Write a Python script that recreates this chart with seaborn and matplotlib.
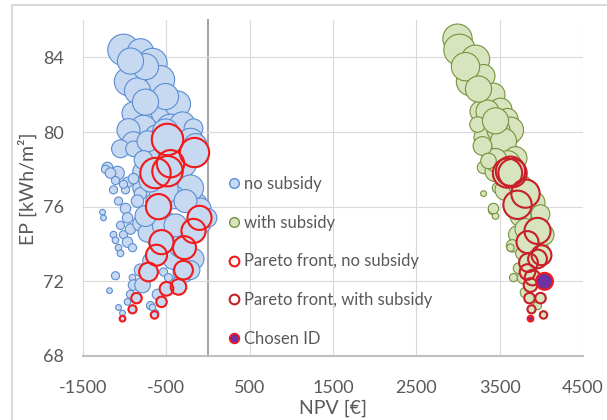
import numpy as np
import pandas as pd
import matplotlib
matplotlib.use("Agg")
import matplotlib.pyplot as plt
from matplotlib.lines import Line2D
from matplotlib.patches import Rectangle
from matplotlib.ticker import MultipleLocator
import seaborn as sns

# ---- data: NPV [€], EP [kWh/m²], bubble-size variable ----
# all renovation options without subsidy (non-Pareto)
npv_ns = [-1014, -810, -666, -954, -570, -846, -666, -534, -366, -894, -774, -450, -306, -954,
          -894, -606, -1050, -294, -414, -654, -1206, -1086, -966, -990, -810, -810, -330, -246,
          -126, -654, -450, -1230, -1170, -1110, -1014, -1134, -894, -810, -1074, -990, -846,
          -1266, -966, -894, -726, -774, -450, -294, -174, -210, -90, -606, -414, -1254, -1134,
          -1110, -1074, -1050, -1014, -966, -906, -1050, -930, -1110, -1182, -906, -894, -930,
          -966, -1074, -1026, -690, -666, -630, -786, -606, -534, -474, -570, -630, -414, -294,
          -366, -486, -330, -90, -6, -174, -606, -810, -726, -210, -150, -510, -750, -930, -534,
          -510, -750, -510, -690, -270, -750, -390, -210, -690, -810]
ep_ns = [84.4, 84.3, 83.7, 82.7, 82.8, 82.2, 81.3, 81.0, 81.5, 81.0, 80.2, 80.2, 80.4, 80.1,
         79.4, 79.7, 79.1, 79.1, 78.6, 78.6, 78.1, 77.8, 77.3, 76.9, 77.9, 77.0, 77.9, 77.0,
         76.2, 76.3, 76.7, 78.0, 77.8, 77.4, 77.2, 76.9, 77.5, 76.7, 76.3, 75.9, 76.3,
         75.7, 75.4, 79.1, 79.5, 78.5, 79.1, 78.3, 80.2, 77.0, 75.9, 75.8, 76.5, 75.4, 74.5,
         74.2, 73.8, 73.5, 74.5, 74.1, 73.8, 75.0, 74.8, 72.3, 71.5, 72.2, 71.8, 71.3,
         70.9, 70.6, 70.3, 70.7, 70.6, 70.3, 71.8, 71.3, 72.5, 72.2, 73.8, 74.2, 73.2, 72.5,
         71.8, 74.5, 73.9, 75.1, 75.4, 73.2, 75.5, 75.1, 74.6, 79.5, 79.3, 81.9, 83.5, 83.8, 76.9,
         75.0, 81.6, 80.0, 77.4, 76.3, 75.5, 75.0, 72.6, 73.1, 72.6]
size_ns = [90, 62, 78, 73, 73, 62, 90, 53, 62, 48, 62, 73, 58, 48,
           48, 62, 29, 62, 48, 48, 10, 17, 10, 6, 22, 22, 48, 48,
           32, 22, 40, 6, 10, 6, 6, 6, 10, 14, 6, 10, 14,
           3, 10, 22, 40, 32, 62, 62, 32, 62, 40, 40, 48, 3, 4,
           4, 4, 4, 6, 10, 6, 6, 10, 6, 3, 4, 10, 6,
           4, 3, 3, 6, 4, 4, 22, 10, 6, 6, 40, 22, 40, 40,
           22, 73, 48, 40, 32, 40, 62, 22, 32, 62, 48, 62, 62, 62, 78,
           62, 62, 62, 48, 48, 40, 48, 32, 22, 14]

# Pareto front without subsidy
npv_pf_ns = [-486, -162, -450, -630, -486, -594, -102, -174, -558, -282, -618, -294, -714,
             -498, -354, -858, -558, -906, -642, -1026]
ep_pf_ns = [79.6, 78.9, 78.3, 77.8, 77.9, 76.0, 75.4, 74.7, 74.1, 73.8, 73.4, 72.6, 72.5,
            71.6, 71.7, 71.1, 70.9, 70.5, 70.2, 70.0]
size_pf_ns = [90, 78, 68, 84, 84, 58, 53, 53, 53, 48, 40, 32, 32, 17, 22, 10, 10, 6, 5, 3]

# all renovation options with subsidy (non-Pareto)
npv_ws = [2994, 3018, 3210, 3150, 3306, 3366, 3426, 3270, 3510, 3594, 3354, 3330, 3570, 3630,
          3390, 3306, 3630, 3234, 3486, 3546, 3690, 3594, 3474, 3306, 3414, 3450, 3906, 3786,
          3990, 3714, 3654, 3630, 3774, 3726, 3666, 3786, 3810, 3954, 3990, 4026, 3426, 3570,
          3750, 3450, 3090, 3246, 3450, 3450, 3750, 3510, 3870, 3810, 3294, 3366]
ep_ws = [85.0, 84.4, 83.9, 82.7, 83.0, 81.8, 82.0, 81.1, 81.2, 80.7, 81.1, 79.7, 79.9, 80.1,
         79.0, 78.1, 78.6, 80.4, 80.1, 79.5, 78.6, 78.3, 77.0, 76.7, 75.8, 75.5, 76.2, 76.3,
         75.6, 74.5, 73.9, 73.8, 73.5, 72.7, 72.2, 72.2, 71.4, 70.7, 73.8, 74.5, 75.9, 76.9,
         77.1, 77.9, 83.5, 82.3, 80.6, 78.5, 75.5, 77.7, 72.9, 74.8, 79.25, 78.45]
size_ws = [78, 90, 73, 73, 48, 62, 48, 40, 48, 40, 48, 48, 73, 62,
           32, 14, 62, 22, 48, 62, 48, 62, 10, 3, 6, 4, 48, 40,
           32, 29, 14, 5, 17, 10, 6, 14, 10, 6, 22, 40, 10, 40,
           48, 40, 73, 62, 62, 48, 40, 22, 22, 40, 32, 22]

# Pareto front with subsidy
npv_pf_ws = [3594, 3630, 3654, 3810, 3714, 3954, 3834, 4002, 3846, 3954, 3834, 3894, 3870,
             3990, 3858, 3882, 4026]
ep_pf_ws = [77.8, 77.9, 77.8, 76.7, 76.1, 74.7, 74.1, 73.4, 73.0, 73.2, 72.5, 72.2, 71.8,
            71.1, 71.1, 70.5, 70.2]
size_pf_ws = [78, 78, 73, 73, 73, 62, 44, 36, 32, 32, 22, 22, 17, 10, 10, 6, 5]

# chosen solutions
npv_ch = [4038, 3870]
ep_ch = [72.0, 70.0]
size_ch = [26, 3]

legend_labels = ["no subsidy", "with subsidy", "Pareto front, no subsidy",
                 "Pareto front, with subsidy", "Chosen ID"]
x_ticks = [-1500, -500, 500, 1500, 2500, 3500, 4500]
y_ticks = [68, 72, 76, 80, 84]


def frame(x, y, s):
    return pd.DataFrame({"NPV": x, "EP": y, "bubble": s})


df_ns = frame(npv_ns + npv_pf_ns, ep_ns + ep_pf_ns, size_ns + size_pf_ns)
df_ws = frame(npv_ws + npv_pf_ws, ep_ws + ep_pf_ws, size_ws + size_pf_ws)
df_pf_ns = frame(npv_pf_ns, ep_pf_ns, size_pf_ns)
df_pf_ws = frame(npv_pf_ws, ep_pf_ws, size_pf_ws)
df_ch = frame(npv_ch, ep_ch, size_ch)

# ---- style ----
sns.set_theme(style="white")
plt.rcParams["font.family"] = ["Lato", "DejaVu Sans"]
plt.rcParams["axes.unicode_minus"] = False
TXT = "#595959"

blue_fc, blue_ec = "#C6D9F1", "#5B8DD3"
green_fc, green_ec = "#D7E4BD", "#76923C"
red1, red2 = "#F51A1A", "#C8202A"
purple = "#7030A0"

fig = plt.figure(figsize=(6.07, 4.2), dpi=100)
ax = fig.add_axes([83 / 607, 64 / 420, 500 / 607, 336 / 420])

# bubble area proportional to the size variable
size_kw = dict(size="bubble", sizes=(0, 570), size_norm=(0, 100), legend=False, ax=ax)

sns.scatterplot(data=df_ns, x="NPV", y="EP", color=blue_fc, edgecolor=blue_ec,
                linewidth=0.8, alpha=1, **size_kw)
sns.scatterplot(data=df_ws, x="NPV", y="EP", color=green_fc, edgecolor=green_ec,
                linewidth=0.8, alpha=1, **size_kw)
sns.scatterplot(data=df_pf_ns, x="NPV", y="EP", facecolors="none", edgecolor=red1,
                linewidth=1.5, **size_kw)
sns.scatterplot(data=df_pf_ws, x="NPV", y="EP", facecolors="none", edgecolor=red2,
                linewidth=1.5, **size_kw)
sns.scatterplot(data=df_ch, x="NPV", y="EP", color=purple, edgecolor=red1,
                linewidth=1.5, **size_kw)

ax.set_xlim(-1500, 4500)
ax.set_ylim(68, 86)
ax.set_xlabel("")
ax.set_ylabel("")

# grid
ax.set_axisbelow(True)
ax.set_xticks(x_ticks, labels=[str(v) for v in x_ticks])
ax.set_yticks(y_ticks)
ax.yaxis.set_minor_locator(MultipleLocator(1))
ax.grid(True, which="major", color="#D9D9D9", linewidth=0.8)

# spines: vertical value axis crossing at NPV = 0
for side in ("top", "right"):
    ax.spines[side].set_visible(False)
ax.spines["bottom"].set_color("#BFBFBF")
ax.spines["bottom"].set_linewidth(1.5)
ax.spines["left"].set_position(("data", 0))
ax.spines["left"].set_color("#A6A6A6")
ax.spines["left"].set_linewidth(1.5)
ax.spines["left"].set_zorder(0.5)

ax.tick_params(axis="y", which="both", direction="in", length=4.5, width=0.8,
               color="#A6A6A6", labelleft=False)
ax.tick_params(axis="x", length=0, pad=17, labelsize=13, labelcolor=TXT)

# y tick labels on the left edge of the plot
sec = ax.secondary_yaxis("left")
sec.set_yticks(y_ticks, labels=[str(v) for v in y_ticks])
sec.spines["left"].set_visible(False)
sec.tick_params(length=0, pad=13.5, labelsize=13, labelcolor=TXT)

fig.text(27 / 607, 1 - 189 / 420, "EP [kWh/m²]", rotation=90, ha="center", va="center",
         fontsize=14, color=TXT)
fig.text(333 / 607, 1 - 408 / 420, "NPV [€]", ha="center", va="center",
         fontsize=14, color=TXT)

# legend
handles = [
    Line2D([], [], linestyle="", marker="o", markersize=7, markerfacecolor=blue_fc,
           markeredgecolor=blue_ec, markeredgewidth=1),
    Line2D([], [], linestyle="", marker="o", markersize=7, markerfacecolor=green_fc,
           markeredgecolor=green_ec, markeredgewidth=1),
    Line2D([], [], linestyle="", marker="o", markersize=7, markerfacecolor="white",
           markeredgecolor=red1, markeredgewidth=1.5),
    Line2D([], [], linestyle="", marker="o", markersize=7, markerfacecolor="white",
           markeredgecolor=red2, markeredgewidth=1.5),
    Line2D([], [], linestyle="", marker="o", markersize=7, markerfacecolor=purple,
           markeredgecolor=red1, markeredgewidth=1.2),
]
ax.legend(handles, legend_labels, loc="upper left", bbox_to_anchor=(206, 77.66),
          bbox_transform=ax.transData, frameon=False, fontsize=12, labelcolor=TXT,
          handlelength=1.0, handletextpad=0.1, labelspacing=1.37, borderpad=0,
          borderaxespad=0)

# chart border
fig.patches.append(Rectangle((12 / 607, -0.1), 1.2, 1 - 5 / 420 + 0.1,
                             transform=fig.transFigure, fill=False,
                             edgecolor="#D9D9D9", linewidth=1.5))

fig.savefig("out.png", dpi=100)
